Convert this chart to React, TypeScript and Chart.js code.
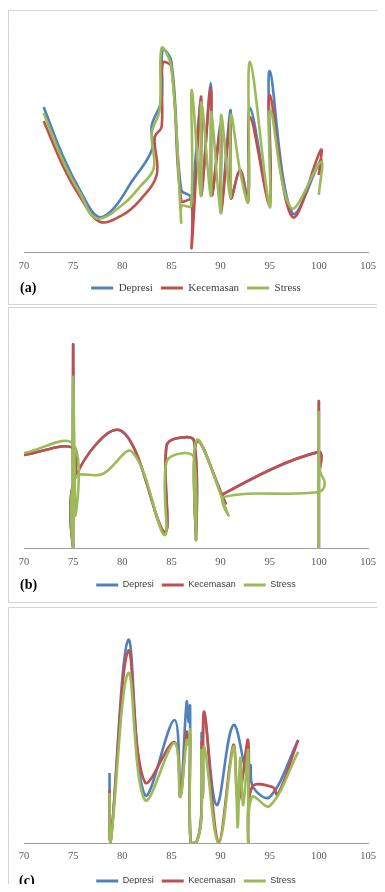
import React, { useEffect, useRef } from 'react';
import { Chart, registerables } from 'chart.js';

Chart.register(...registerables);

const seriesNames = ['Depresi', 'Kecemasan', 'Stress'];
const seriesColors = ['#4F81BD', '#C0504D', '#9BBB59'];
const xMin = 70;
const xMax = 105;
const xStep = 5;

// ---------- Panel (a) ----------
const aDepresiX = [72, 74, 75.8, 77.5, 79, 81, 83.0, 83.0, 84.0, 84.1, 85.0, 86.0, 86.9, 87.05, 88.0, 88.05, 89.0, 89.1, 90.0, 90.05, 91.0, 91.05, 92.0, 92.8, 93.0, 95.0, 95.0, 97.3, 100.2, 100.0];
const aDepresiY = [61.7, 40.4, 25.5, 15.0, 18.0, 30.2, 43.4, 54.0, 64.7, 86.0, 80.9, 26.4, 23.8, 20.0, 64.7, 24.3, 71.9, 24.3, 54.0, 17.9, 60.4, 23.0, 34.9, 22.1, 61.3, 20.9, 77.0, 16.6, 39.1, 32.8];
const aKecemasanX = [72, 74, 75.7, 77.7, 80, 81.8, 83.5, 83.3, 84.0, 84.1, 85.0, 86.0, 87.0, 87.05, 88.0, 88.05, 89.0, 89.1, 90.0, 90.05, 91.0, 91.05, 92.0, 92.8, 93.0, 95.0, 95.0, 97.3, 100.2, 100.0];
const aKecemasanY = [55.7, 36.3, 23.5, 12.9, 15.7, 22.1, 32.8, 48.9, 53.2, 80.4, 78.7, 21.7, 22.1, 1.7, 66.0, 24.3, 70.2, 24.3, 51.9, 16.6, 56.2, 23.0, 34.9, 21.3, 57.4, 20.0, 66.8, 14.9, 43.4, 32.8];
const aStressX = [72, 74, 75.7, 77.4, 80, 81.8, 83.2, 83.0, 83.8, 84.0, 85.0, 86.0, 86.05, 87.0, 87.05, 88.0, 88.05, 89.0, 89.05, 90.0, 90.05, 91.0, 91.05, 92.0, 92.8, 93.0, 95.0, 95.05, 97.2, 100.2, 100.0];
const aStressY = [59.1, 38.4, 25.0, 14.3, 20.0, 27.8, 35.7, 50.6, 60.4, 86.8, 78.3, 12.8, 19.6, 19.6, 68.9, 23.8, 63.8, 23.8, 59.6, 16.6, 58.3, 23.0, 58.3, 34.0, 21.7, 80.9, 19.1, 60.4, 18.7, 38.3, 24.3];

// ---------- Panel (b) ----------
const bKecemasanX = [70, 75, 75.05, 75, 75, 75.2, 79.9, 84.3, 84.5, 85.7, 87.3, 87.5, 87.6, 90.5, 90.3, 100, 100, 100, 100];
const bKecemasanY = [39.6, 42.6, 30.0, 86.4, 0, 29.8, 49.8, 6.8, 43.4, 46.8, 45.5, 3.4, 45.5, 19.1, 23.0, 40.9, 32.8, 62.1, 0];
const bDepresiX = [...bKecemasanX];
const bDepresiY = [...bKecemasanY];
const bStressX = [70, 75, 75.2, 75, 75, 75.2, 78, 81, 84.3, 84.5, 86.3, 87.3, 87.5, 87.6, 90.8, 90.3, 100, 100.6, 100.1, 100, 100];
const bStressY = [40.4, 44.3, 14.0, 72.8, 0, 29.8, 31.5, 40.9, 5.5, 36.6, 40.4, 38.3, 3.4, 46.0, 14.0, 21.7, 23.8, 27.5, 33.0, 57.4, 0];

// ---------- Panel (c) ----------
const cDepresiX = [78.7, 78.8, 80.6, 82.3, 85.3, 85.9, 86.55, 86.75, 86.9, 86.95, 87.6, 88.05, 88.07, 88.2, 88.35, 89.6, 91.3, 92.8, 93.05, 93.3, 95.0, 97.9];
const cDepresiY = [30.4, 0, 88.3, 20.9, 53.5, 20.9, 61.3, 52.6, 59.6, 0, 0.9, 13.5, 47.8, 23.0, 56.5, 16.5, 51.3, 27.4, 33.9, 24.3, 20.0, 44.8];
const cKecemasanX = [78.7, 78.8, 80.6, 82.3, 85.3, 85.9, 86.55, 86.75, 86.9, 86.95, 87.6, 88.05, 88.07, 88.2, 88.35, 89.8, 91.3, 91.8, 92.8, 92.82, 93.2, 95.3, 95.8, 97.9];
const cKecemasanY = [23.0, 0, 83.5, 26.5, 43.9, 20.0, 48.3, 44.8, 47.0, 0, 0.9, 12.2, 43.9, 20.9, 57.0, 0, 42.6, 17.4, 44.8, 0, 24.3, 24.3, 20.9, 44.8];
const cStressX = [78.7, 78.8, 80.6, 82.3, 85.3, 85.9, 86.55, 86.75, 86.9, 86.95, 87.6, 88.05, 88.07, 88.2, 88.35, 89.8, 91.3, 91.6, 91.75, 92.0, 92.3, 92.8, 92.82, 93.2, 95.0, 97.9];
const cStressY = [21.7, 0, 73.9, 18.7, 43.5, 20.0, 44.8, 42.6, 49.1, 0, 0.9, 10.9, 40.4, 19.6, 41.7, 0, 41.7, 23.0, 7.0, 37.0, 16.5, 40.4, 0, 20.0, 16.1, 39.6];

type PanelSpec = {
  xs: number[][];
  ys: number[][];
  legendFamily: string;
  legendSize: number;
  tickPadding: number;
  axisHeight: number;
  padTop: number;
  padBottom: number;
};

const leftTicks = {
  id: 'leftTicks',
  afterDraw(chart: any) {
    const y = chart.scales.y;
    const ctx = chart.ctx;
    ctx.save();
    ctx.strokeStyle = '#c4c4c4';
    ctx.lineWidth = 1;
    for (let i = 0; i <= 15; i++) {
      const py = Math.round(y.getPixelForValue((i * 100) / 15)) + 0.5;
      ctx.beginPath();
      ctx.moveTo(1, py);
      ctx.lineTo(4.5, py);
      ctx.stroke();
    }
    ctx.restore();
  },
};

function makeConfig(spec: PanelSpec): any {
  return {
    type: 'scatter',
    data: {
      datasets: seriesNames.map((name, i) => ({
        label: name,
        data: spec.xs[i].map((x, j) => ({ x, y: spec.ys[i][j] })),
        borderColor: seriesColors[i],
        backgroundColor: seriesColors[i],
        borderWidth: 2.6,
        pointRadius: 0,
        pointHoverRadius: 0,
        showLine: true,
        tension: 0.38,
        order: 3 - i,
      })),
    },
    options: {
      responsive: false,
      animation: false,
      layout: { padding: { left: 20, right: 17, top: spec.padTop, bottom: spec.padBottom } },
      scales: {
        x: {
          type: 'linear',
          min: xMin,
          max: xMax,
          ticks: {
            stepSize: xStep,
            padding: spec.tickPadding,
            color: '#595959',
            font: { family: '"Liberation Serif", serif', size: 10.5 },
          },
          grid: { display: false, drawTicks: false },
          border: { display: true, color: '#a0a0a0', width: 1 },
          afterFit: (scale: any) => {
            scale.height = spec.axisHeight;
          },
        },
        y: { display: false, min: 0, max: 100 },
      },
      plugins: {
        tooltip: { enabled: false },
        legend: {
          display: true,
          position: 'bottom',
          labels: {
            boxWidth: 22,
            boxHeight: 3,
            padding: 8,
            color: '#404040',
            font: { family: spec.legendFamily, size: spec.legendSize },
            sort: (a: any, b: any) => a.datasetIndex - b.datasetIndex,
            generateLabels: (chart: any) =>
              Chart.defaults.plugins.legend.labels
                .generateLabels(chart)
                .map((it: any) => ({ ...it, lineWidth: 0, fillStyle: seriesColors[it.datasetIndex] })),
          },
        },
      },
    },
    plugins: [leftTicks],
  };
}

const panelA: PanelSpec = {
  xs: [aDepresiX, aKecemasanX, aStressX],
  ys: [aDepresiY, aKecemasanY, aStressY],
  legendFamily: '"Liberation Serif", serif',
  legendSize: 11,
  tickPadding: 7.7,
  axisHeight: 22.5,
  padTop: 6,
  padBottom: 0.5,
};
const panelB: PanelSpec = {
  xs: [bDepresiX, bKecemasanX, bStressX],
  ys: [bDepresiY, bKecemasanY, bStressY],
  legendFamily: '"Liberation Sans", sans-serif',
  legendSize: 9,
  tickPadding: 7.7,
  axisHeight: 24.5,
  padTop: 5,
  padBottom: 2.5,
};
const panelC: PanelSpec = {
  xs: [cDepresiX, cKecemasanX, cStressX],
  ys: [cDepresiY, cKecemasanY, cStressY],
  legendFamily: '"Liberation Sans", sans-serif',
  legendSize: 9,
  tickPadding: 6.7,
  axisHeight: 25.5,
  padTop: 5,
  padBottom: 0.5,
};

const frame = '1px solid #d4d4d4';

function Panel(props: {
  spec: PanelSpec;
  height: number;
  canvasHeight: number;
  marginTop: number;
  tag: string;
  tagLeft: number;
  tagTop: number;
  bottomBorder: boolean;
}) {
  const ref = useRef<HTMLCanvasElement>(null);
  useEffect(() => {
    const chart = new Chart(ref.current as HTMLCanvasElement, makeConfig(props.spec));
    return () => chart.destroy();
  }, []);
  return (
    <div
      style={{
        position: 'relative',
        height: props.height,
        marginTop: props.marginTop,
        borderLeft: frame,
        borderTop: frame,
        borderBottom: props.bottomBorder ? frame : 'none',
      }}
    >
      <canvas
        ref={ref}
        width={381}
        height={props.canvasHeight}
        style={{ position: 'absolute', left: -5, top: 0, width: 381, height: props.canvasHeight }}
      />
      <span
        style={{
          position: 'absolute',
          left: props.tagLeft,
          top: props.tagTop,
          font: 'bold 14px "Liberation Serif", serif',
          lineHeight: '16px',
          color: '#000',
        }}
      >
        {props.tag}
      </span>
    </div>
  );
}

export default function App() {
  useEffect(() => {
    document.documentElement.style.overflow = 'hidden';
  }, []);
  return (
    <div>
      <Panel spec={panelA} height={293} canvasHeight={293} marginTop={2} tag="(a)" tagLeft={11} tagTop={269} bottomBorder={true} />
      <Panel spec={panelB} height={294} canvasHeight={294} marginTop={2} tag="(b)" tagLeft={11} tagTop={269} bottomBorder={true} />
      <Panel spec={panelC} height={276} canvasHeight={288} marginTop={4} tag="(c)" tagLeft={10} tagTop={265} bottomBorder={false} />
    </div>
  );
}
